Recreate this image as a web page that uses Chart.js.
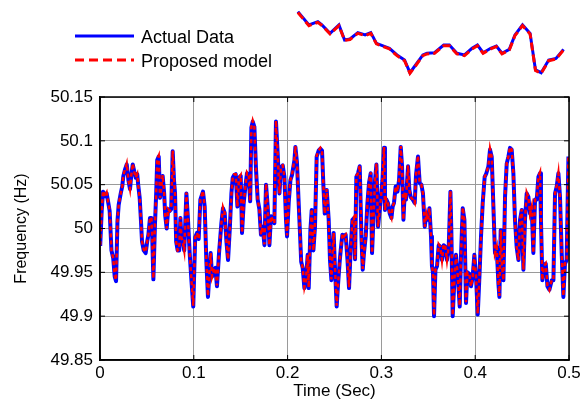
<!DOCTYPE html>
<html>
<head>
<meta charset="utf-8">
<script src="https://cdn.jsdelivr.net/npm/chart.js@4.4.1/dist/chart.umd.min.js"></script>
<style>
  html, body { margin: 0; padding: 0; background: #fff; }
  #wrap { position: relative; width: 587px; height: 405px; }
  #main { position: absolute; left: 0; top: 0; }
  #inset { position: absolute; left: 296px; top: 5px; }
</style>
</head>
<body>
<div id="wrap">
  <canvas id="main" width="587" height="405"></canvas>
  <canvas id="inset" width="270" height="75"></canvas>
</div>
<script>
// Frequency traces (time in seconds, frequency in Hz)
const timeSec = [
  0.0002, 0.0018, 0.0032, 0.0053, 0.0071, 0.0087, 0.0103, 0.0122, 0.0141, 0.0157,
  0.0171, 0.0186, 0.0199, 0.0221, 0.0237, 0.0249, 0.0269, 0.0285, 0.0303, 0.0320,
  0.0333, 0.0349, 0.0365, 0.0381, 0.0397, 0.0407, 0.0423, 0.0436, 0.0448, 0.0466,
  0.0487, 0.0503, 0.0516, 0.0533, 0.0548, 0.0557, 0.0569, 0.0586, 0.0599, 0.0610,
  0.0626, 0.0640, 0.0652, 0.0668, 0.0684, 0.0695, 0.0711, 0.0727, 0.0743, 0.0759,
  0.0775, 0.0789, 0.0800, 0.0812, 0.0828, 0.0844, 0.0857, 0.0868, 0.0882, 0.0898,
  0.0921, 0.0938, 0.0956, 0.0974, 0.0994, 0.1015, 0.1034, 0.1052, 0.1070, 0.1098,
  0.1116, 0.1134, 0.1151, 0.1166, 0.1180, 0.1194, 0.1215, 0.1230, 0.1247, 0.1269,
  0.1294, 0.1311, 0.1329, 0.1348, 0.1365, 0.1383, 0.1401, 0.1415, 0.1431, 0.1447,
  0.1465, 0.1482, 0.1500, 0.1514, 0.1532, 0.1550, 0.1567, 0.1585, 0.1601, 0.1614,
  0.1628, 0.1646, 0.1663, 0.1681, 0.1699, 0.1716, 0.1735, 0.1753, 0.1770, 0.1788,
  0.1806, 0.1823, 0.1841, 0.1859, 0.1876, 0.1894, 0.1913, 0.1930, 0.1948, 0.1966,
  0.1983, 0.1994, 0.2012, 0.2030, 0.2047, 0.2073, 0.2083, 0.2100, 0.2118, 0.2134,
  0.2145, 0.2161, 0.2179, 0.2196, 0.2214, 0.2225, 0.2243, 0.2257, 0.2275, 0.2292,
  0.2310, 0.2332, 0.2350, 0.2367, 0.2382, 0.2396, 0.2417, 0.2438, 0.2452, 0.2467,
  0.2481, 0.2491, 0.2502, 0.2523, 0.2537, 0.2555, 0.2566, 0.2584, 0.2601, 0.2619,
  0.2638, 0.2655, 0.2673, 0.2691, 0.2708, 0.2719, 0.2733, 0.2751, 0.2769, 0.2787,
  0.2801, 0.2814, 0.2833, 0.2851, 0.2868, 0.2886, 0.2900, 0.2915, 0.2932, 0.2947,
  0.2964, 0.2979, 0.2993, 0.3011, 0.3028, 0.3038, 0.3053, 0.3070, 0.3089, 0.3107,
  0.3120, 0.3134, 0.3152, 0.3171, 0.3188, 0.3206, 0.3220, 0.3235, 0.3248, 0.3262,
  0.3284, 0.3298, 0.3312, 0.3334, 0.3355, 0.3369, 0.3390, 0.3408, 0.3426, 0.3443,
  0.3462, 0.3480, 0.3497, 0.3512, 0.3529, 0.3539, 0.3550, 0.3561, 0.3576, 0.3593,
  0.3611, 0.3629, 0.3646, 0.3664, 0.3682, 0.3699, 0.3718, 0.3736, 0.3746, 0.3760,
  0.3778, 0.3795, 0.3813, 0.3835, 0.3849, 0.3867, 0.3885, 0.3902, 0.3917, 0.3938,
  0.3955, 0.3973, 0.3991, 0.4009, 0.4027, 0.4045, 0.4062, 0.4080, 0.4101, 0.4119,
  0.4141, 0.4158, 0.4176, 0.4194, 0.4211, 0.4229, 0.4247, 0.4258, 0.4272, 0.4286,
  0.4301, 0.4318, 0.4336, 0.4354, 0.4371, 0.4389, 0.4407, 0.4424, 0.4442, 0.4461,
  0.4478, 0.4496, 0.4514, 0.4531, 0.4549, 0.4567, 0.4584, 0.4602, 0.4620, 0.4638,
  0.4656, 0.4674, 0.4691, 0.4701, 0.4716, 0.4733, 0.4752, 0.4770, 0.4791, 0.4816,
  0.4834, 0.4851, 0.4869, 0.4887, 0.4904, 0.4922, 0.4940, 0.4957, 0.4975, 0.4994
];

const actualHz = [
  49.980, 50.020, 50.042, 50.037, 50.040, 50.030, 50.020, 49.975, 49.966, 49.945,
  49.940, 50.008, 50.027, 50.040, 50.048, 50.060, 50.068, 50.073, 50.055, 50.045,
  50.060, 50.073, 50.065, 50.058, 50.062, 50.050, 50.035, 50.010, 49.985, 49.975,
  49.972, 49.985, 49.993, 50.012, 50.012, 49.990, 49.942, 50.005, 50.040, 50.078,
  50.082, 50.035, 50.045, 50.060, 50.040, 50.015, 50.000, 50.022, 50.020, 50.022,
  50.088, 50.055, 50.040, 49.985, 49.975, 49.975, 50.012, 49.990, 49.985, 49.975,
  50.040, 50.010, 49.972, 49.942, 49.911, 49.990, 49.995, 49.988, 50.033, 50.042,
  50.025, 49.962, 49.922, 49.948, 49.972, 49.945, 49.953, 49.955, 49.934, 49.972,
  50.006, 50.023, 50.018, 49.985, 49.964, 49.998, 50.040, 50.058, 50.061, 50.062,
  50.025, 50.058, 50.060, 49.995, 50.029, 50.048, 50.063, 50.061, 50.031, 50.115,
  50.122, 50.116, 50.068, 50.033, 50.022, 49.993, 50.002, 49.981, 50.050, 50.025,
  49.981, 50.014, 50.010, 50.006, 50.122, 50.086, 50.040, 50.070, 50.072, 50.059,
  50.010, 49.991, 50.030, 50.055, 50.061, 50.078, 50.093, 50.075, 50.029, 49.990,
  49.962, 49.955, 49.932, 49.941, 49.970, 49.932, 49.998, 50.021, 49.975, 50.002,
  50.082, 50.089, 50.091, 50.089, 50.048, 50.017, 50.044, 50.010, 49.964, 49.941,
  49.975, 49.995, 49.963, 49.911, 49.935, 49.962, 49.975, 49.993, 49.991, 49.993,
  49.965, 49.932, 49.978, 50.010, 50.012, 49.965, 50.059, 50.063, 50.071, 49.991,
  49.953, 49.972, 49.991, 50.029, 50.052, 50.063, 49.972, 50.010, 50.055, 50.073,
  50.002, 50.018, 50.033, 50.055, 50.092, 50.021, 50.033, 50.029, 50.017, 50.012,
  50.025, 50.029, 50.048, 50.042, 50.055, 50.093, 50.071, 50.010, 50.040, 50.033,
  50.071, 50.044, 50.036, 50.033, 50.029, 50.061, 50.082, 50.052, 50.050, 50.040,
  50.002, 50.017, 50.010, 50.023, 49.991, 49.957, 49.950, 49.900, 49.953, 49.957,
  49.981, 49.979, 49.964, 49.981, 49.979, 49.964, 49.979, 50.042, 49.995, 49.900,
  49.941, 49.970, 49.948, 49.911, 49.970, 50.023, 50.010, 49.915, 49.950, 49.948,
  49.934, 49.945, 49.970, 49.945, 49.902, 49.945, 49.991, 50.029, 50.059, 50.063,
  50.071, 50.090, 50.082, 50.025, 49.972, 49.979, 49.938, 49.922, 49.998, 49.957,
  49.941, 50.036, 50.074, 50.082, 50.092, 50.090, 50.063, 50.010, 49.979, 49.964,
  50.010, 50.021, 49.953, 50.010, 50.040, 50.036, 50.017, 50.025, 49.972, 50.033,
  50.033, 50.059, 50.063, 50.010, 49.941, 49.957, 49.960, 49.934, 49.930, 49.941,
  49.941, 50.040, 50.048, 50.063, 50.036, 49.972, 49.922, 49.960, 49.964, 50.082
];

const modelHz = [
  49.981, 50.021, 50.043, 50.037, 50.041, 50.030, 50.020, 49.975, 49.966, 49.946,
  49.941, 50.008, 50.027, 50.040, 50.048, 50.061, 50.068, 50.074, 50.055, 50.045,
  50.060, 50.074, 50.065, 50.058, 50.062, 50.050, 50.035, 50.010, 49.985, 49.976,
  49.973, 49.985, 49.993, 50.012, 50.013, 49.990, 49.943, 50.005, 50.040, 50.079,
  50.083, 50.035, 50.045, 50.061, 50.040, 50.015, 50.000, 50.022, 50.020, 50.022,
  50.089, 50.055, 50.040, 49.985, 49.975, 49.976, 50.013, 49.990, 49.985, 49.975,
  50.041, 50.010, 49.972, 49.943, 49.912, 49.990, 49.995, 49.988, 50.033, 50.043,
  50.025, 49.962, 49.923, 49.948, 49.972, 49.945, 49.953, 49.955, 49.935, 49.972,
  50.006, 50.024, 50.018, 49.985, 49.965, 49.998, 50.040, 50.058, 50.062, 50.062,
  50.025, 50.058, 50.061, 49.995, 50.029, 50.048, 50.064, 50.061, 50.031, 50.116,
  50.123, 50.116, 50.068, 50.033, 50.022, 49.993, 50.002, 49.982, 50.051, 50.025,
  49.981, 50.014, 50.010, 50.006, 50.123, 50.086, 50.040, 50.071, 50.072, 50.059,
  50.010, 49.992, 50.030, 50.055, 50.061, 50.079, 50.094, 50.075, 50.029, 49.990,
  49.962, 49.955, 49.933, 49.941, 49.970, 49.933, 49.998, 50.022, 49.975, 50.002,
  50.083, 50.089, 50.092, 50.089, 50.048, 50.017, 50.045, 50.010, 49.964, 49.942,
  49.975, 49.995, 49.963, 49.912, 49.935, 49.962, 49.975, 49.994, 49.991, 49.993,
  49.965, 49.933, 49.978, 50.010, 50.013, 49.965, 50.060, 50.063, 50.072, 49.991,
  49.954, 49.972, 49.991, 50.029, 50.052, 50.064, 49.972, 50.010, 50.055, 50.074,
  50.002, 50.018, 50.033, 50.056, 50.093, 50.021, 50.033, 50.029, 50.017, 50.012,
  50.025, 50.029, 50.048, 50.042, 50.056, 50.094, 50.071, 50.010, 50.041, 50.033,
  50.072, 50.044, 50.036, 50.033, 50.029, 50.062, 50.083, 50.052, 50.050, 50.040,
  50.002, 50.017, 50.010, 50.023, 49.991, 49.957, 49.950, 49.901, 49.953, 49.957,
  49.982, 49.979, 49.964, 49.982, 49.979, 49.964, 49.980, 50.043, 49.995, 49.901,
  49.941, 49.970, 49.948, 49.912, 49.970, 50.024, 50.010, 49.916, 49.950, 49.948,
  49.934, 49.945, 49.970, 49.945, 49.903, 49.945, 49.991, 50.029, 50.059, 50.063,
  50.072, 50.091, 50.082, 50.025, 49.972, 49.979, 49.938, 49.923, 49.998, 49.957,
  49.941, 50.036, 50.075, 50.082, 50.093, 50.090, 50.063, 50.010, 49.979, 49.964,
  50.010, 50.022, 49.953, 50.010, 50.041, 50.036, 50.017, 50.025, 49.972, 50.033,
  50.034, 50.059, 50.064, 50.010, 49.941, 49.957, 49.960, 49.935, 49.930, 49.941,
  49.941, 50.040, 50.049, 50.063, 50.036, 49.972, 49.923, 49.960, 49.964, 50.083
];

// Small trace that sits above the axes (arbitrary window of the record)
const insetTime = [
  0.0007, 0.0048, 0.0081, 0.0096, 0.0126, 0.0159, 0.0180, 0.0200, 0.0229, 0.0256,
  0.0277, 0.0298, 0.0346, 0.0374, 0.0402, 0.0422, 0.0443, 0.0470, 0.0485, 0.0513,
  0.0547, 0.0568, 0.0596, 0.0624, 0.0652, 0.0672, 0.0693, 0.0721, 0.0742, 0.0763,
  0.0790, 0.0811, 0.0839, 0.0867, 0.0887, 0.0908, 0.0936, 0.0963, 0.0991
];
const insetActualHz = [
  50.0329, 50.0187, 50.0222, 50.0187, 50.0098, 50.0187, 50.0027, 50.0037, 50.0105, 50.0080,
  50.0105, 49.9991, 49.9938, 49.9867, 49.9813, 49.9678, 49.9760, 49.9867, 49.9885, 49.9891,
  49.9973, 49.9973, 49.9885, 49.9867, 49.9938, 49.9973, 49.9891, 49.9938, 49.9963, 49.9885,
  49.9927, 50.0080, 50.0187, 50.0098, 49.9707, 49.9678, 49.9813, 49.9831, 49.9927
];
const insetModelHz = [
  50.0320, 50.0180, 50.0215, 50.0182, 50.0092, 50.0180, 50.0022, 50.0032, 50.0098, 50.0074,
  50.0098, 49.9985, 49.9932, 49.9860, 49.9806, 49.9672, 49.9752, 49.9860, 49.9878, 49.9885,
  49.9966, 49.9966, 49.9878, 49.9860, 49.9931, 49.9966, 49.9885, 49.9931, 49.9956, 49.9878,
  49.9920, 50.0074, 50.0180, 50.0090, 49.9700, 49.9670, 49.9806, 49.9824, 49.9920
];

const seriesLabels = ['Actual Data', 'Proposed model'];
const xTickValues = [0, 0.1, 0.2, 0.3, 0.4, 0.5];
const xTickLabels = ['0', '0.1', '0.2', '0.3', '0.4', '0.5'];
const yTickValues = [49.85, 49.9, 49.95, 50, 50.05, 50.1, 50.15];
const yTickLabels = ['49.85', '49.9', '49.95', '50', '50.05', '50.1', '50.15'];

const BLUE = '#0000ff';
const RED = '#ff0000';
const GRID = '#9a9a9a';
const FONT = 'Liberation Sans, Arial, Helvetica, sans-serif';

Chart.defaults.font.family = FONT;
Chart.defaults.color = '#000';

const pts = (xs, ys) => xs.map((x, i) => ({ x, y: ys[i] }));

// black box round the axes + short inward ticks, matlab style
const boxPlugin = {
  id: 'box',
  afterDatasetsDraw(chart){
    const { ctx, chartArea: a, scales } = chart;
    ctx.save();
    ctx.strokeStyle = '#000';
    ctx.lineWidth = 1.5;
    ctx.strokeRect(a.left, a.top, a.right - a.left, a.bottom - a.top);
    ctx.lineWidth = 1;
    ctx.beginPath();
    xTickValues.forEach(v => {
      const px = scales.x.getPixelForValue(v);
      ctx.moveTo(px, a.bottom); ctx.lineTo(px, a.bottom - 5);
      ctx.moveTo(px, a.top); ctx.lineTo(px, a.top + 5);
    });
    yTickValues.forEach(v => {
      const py = scales.y.getPixelForValue(v);
      ctx.moveTo(a.left, py); ctx.lineTo(a.left + 5, py);
      ctx.moveTo(a.right, py); ctx.lineTo(a.right - 5, py);
    });
    ctx.stroke();
    ctx.restore();
  }
};

// legend sits above the axes, entries stacked
const legendPlugin = {
  id: 'stackLegend',
  afterDraw(chart){
    const { ctx } = chart;
    ctx.save();
    chart.data.datasets.forEach((ds, i) => {
      const y = 36 + i * 24;
      ctx.beginPath();
      ctx.strokeStyle = ds.borderColor;
      ctx.lineWidth = 3;
      ctx.setLineDash(i === 0 ? [] : [9, 5]);
      ctx.moveTo(75, y); ctx.lineTo(134, y);
      ctx.stroke();
      ctx.setLineDash([]);
      ctx.fillStyle = '#000';
      ctx.font = '18px ' + FONT;
      ctx.textBaseline = 'middle';
      ctx.fillText(ds.label, 141, y + 2);
    });
    ctx.restore();
  }
};

new Chart(document.getElementById('main'), {
  type: 'line',
  data: {
    datasets: [
      {
        label: seriesLabels[0],
        data: pts(timeSec, actualHz),
        borderColor: BLUE,
        borderWidth: 4,
        pointRadius: 0,
        tension: 0,
        borderJoinStyle: 'round',
        order: 2,
      },
      {
        label: seriesLabels[1],
        data: pts(timeSec, modelHz),
        borderColor: RED,
        borderWidth: 2.5,
        borderDash: [4, 3],
        pointRadius: 0,
        tension: 0,
        order: 1,
      },
    ]
  },
  options: {
    responsive: false,
    animation: false,
    devicePixelRatio: 1,
    layout: { padding: { top: 97, right: 18, left: 0, bottom: 0 } },
    plugins: {
      legend: { display: false },
      tooltip: { enabled: false },
    },
    scales: {
      x: {
        type: 'linear',
        min: 0, max: 0.5,
        afterBuildTicks: (s) => { s.ticks = xTickValues.map(v => ({ value: v })); },
        afterFit: (s) => { s.height = 45; },
        ticks: {
          callback: (v, i) => xTickLabels[i],
          font: { size: 17 }, color: '#000', padding: 3,
          maxRotation: 0, autoSkip: false,
        },
        grid: { color: GRID, lineWidth: 1, drawTicks: false },
        border: { color: '#000', width: 1.5 },
        title: { display: true, text: 'Time (Sec)', font: { size: 17 }, color: '#000', padding: { bottom: 3 } },
      },
      y: {
        min: 49.85, max: 50.15,
        afterBuildTicks: (s) => { s.ticks = yTickValues.map(v => ({ value: v })); },
        afterFit: (s) => { s.width = 100; },
        ticks: {
          callback: (v, i) => yTickLabels[i],
          font: { size: 17 }, color: '#000', padding: 7,
          autoSkip: false,
        },
        grid: { color: GRID, lineWidth: 1, drawTicks: false },
        border: { color: '#000', width: 1.5 },
        title: { display: true, text: 'Frequency (Hz)', font: { size: 16 }, color: '#000', padding: { top: 12 } },
      },
    }
  },
  plugins: [boxPlugin, legendPlugin]
});

// inset trace
new Chart(document.getElementById('inset'), {
  type: 'line',
  data: {
    datasets: [
      { data: pts(insetTime, insetActualHz), borderColor: BLUE, borderWidth: 3, pointRadius: 0, tension: 0, clip: false, order: 2 },
      { data: pts(insetTime, insetModelHz), borderColor: RED, borderWidth: 3, borderDash: [8, 4], pointRadius: 0, tension: 0, clip: false, order: 1 },
    ]
  },
  options: {
    responsive: false,
    animation: false,
    devicePixelRatio: 1,
    layout: { padding: 0 },
    plugins: { legend: { display: false }, tooltip: { enabled: false } },
    scales: {
      x: { type: 'linear', min: 0, max: 0.1, display: false },
      y: { min: 49.96, max: 50.04, display: false },
    }
  }
});
</script>
</body>
</html>
